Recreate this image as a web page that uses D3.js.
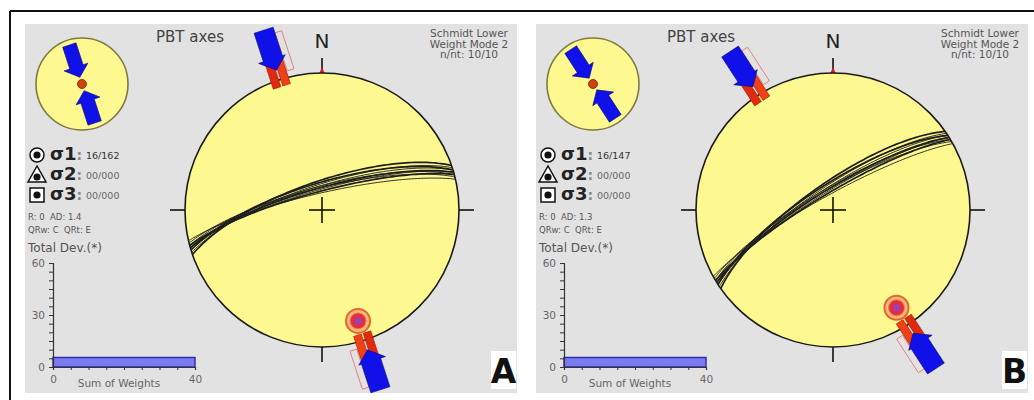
<!DOCTYPE html>
<html>
<head>
<meta charset="utf-8">
<script src="https://cdn.jsdelivr.net/npm/d3@7"></script>
<style>
	body { margin: 0; background: #fff; }
	svg { display: block; }
	text { font-family: "DejaVu Sans", sans-serif; }
</style>
</head>
<body>
<svg id="chart" width="1034" height="400"></svg>
<script>
// values
const panelNames = ["A", "B"];
const sigma1 = ["16/162", "16/147"];
const sigma2 = ["00/000", "00/000"];
const sigma3 = ["00/000", "00/000"];
const pTrend = [162, 147];
const pPlunge = [16, 16];
const rValues = ["0", "0"];
const adValues = ["1.4", "1.3"];
const qrwValues = ["C", "C"];
const qrtValues = ["E", "E"];
const strikesA = [251, 252, 253, 254, 254, 255, 255, 256, 257, 253];
const dipsA = [73, 75, 76, 77, 78, 76, 79, 77, 80, 74];
const strikesB = [235, 236, 237, 238, 238, 239, 239, 240, 241, 237];
const dipsB = [74, 76, 77, 78, 79, 77, 80, 78, 81, 75];
const sumWeights = [40, 40];
const totalDev = [5.5, 5.5];
const devTicks = [0, 30, 60];
const headerLines = ["Schmidt Lower", "Weight Mode 2", "n/nt: 10/10"];

const svg = d3.select("#chart");
const rad = Math.PI / 180;

// outer frame lines
svg.append("line").attr("x1", 10).attr("y1", 11).attr("x2", 1034).attr("y2", 11)
	.attr("stroke", "#111").attr("stroke-width", 2);
svg.append("line").attr("x1", 10).attr("y1", 11).attr("x2", 10).attr("y2", 400)
	.attr("stroke", "#111").attr("stroke-width", 2);

function drawPanel(i, strikes, dips) {
	const g = svg.append("g").attr("transform", `translate(${i * 511},0)`);

	g.append("rect").attr("x", 25).attr("y", 24).attr("width", 492).attr("height", 369)
		.attr("fill", "#e2e2e2");

	// ---- stereonet
	const cx = 322, cy = 210, R = 137;
	const rScale = d3.scaleLinear().domain([0, 1]).range([0, R]);

	function proj(trend, plunge) {
		const r = rScale(Math.SQRT2 * Math.sin((90 - plunge) / 2 * rad));
		return [cx + r * Math.sin(trend * rad), cy - r * Math.cos(trend * rad)];
	}

	function planePoints(strike, dip) {
		const s = strike * rad, dd = (strike + 90) * rad, d = dip * rad;
		return d3.range(0, 180.1, 2).map(function(t) {
			const a = t * rad;
			const n = Math.cos(a) * Math.cos(s) + Math.sin(a) * Math.cos(d) * Math.cos(dd);
			const e = Math.cos(a) * Math.sin(s) + Math.sin(a) * Math.cos(d) * Math.sin(dd);
			const dn = Math.sin(a) * Math.sin(d);
			return proj(Math.atan2(e, n) / rad, Math.asin(Math.min(1, dn)) / rad);
		});
	}

	// local frame: rho = distance from centre along az, w = sideways offset
	function local(ox, oy, az) {
		const sa = Math.sin(az * rad), ca = Math.cos(az * rad);
		return function(p) {
			return [ox + p[0] * sa + p[1] * ca, oy - p[0] * ca + p[1] * sa];
		};
	}
	const poly = d3.line();

	// ticks
	const tickSeg = [[0, -R - 15, 0, -R], [-R - 15, 0, -R, 0], [R, 0, R + 15, 0], [0, R, 0, R + 15]];
	tickSeg.forEach(function(t) {
		g.append("line").attr("x1", cx + t[0]).attr("y1", cy + t[1]).attr("x2", cx + t[2]).attr("y2", cy + t[3])
			.attr("stroke", "#111").attr("stroke-width", 1.6);
	});
	g.append("path").attr("d", poly([[cx - 3, cy - R + 1], [cx, cy - R - 6], [cx + 3, cy - R + 1]]))
		.attr("fill", "#d02020");

	g.append("circle").attr("cx", cx).attr("cy", cy).attr("r", R)
		.attr("fill", "#fdf990").attr("stroke", "#1a1a1a").attr("stroke-width", 1.6);

	// fault planes
	strikes.forEach(function(s, k) {
		g.append("path").attr("d", d3.line().curve(d3.curveBasis)(planePoints(s, dips[k])))
			.attr("fill", "none").attr("stroke", "#1e1e1e")
			.attr("stroke-width", k % 3 === 0 ? 1.7 : 0.9);
	});

	// centre cross
	g.append("line").attr("x1", cx - 13).attr("y1", cy).attr("x2", cx + 13).attr("y2", cy)
		.attr("stroke", "#111").attr("stroke-width", 1.6);
	g.append("line").attr("x1", cx).attr("y1", cy - 13).attr("x2", cx).attr("y2", cy + 13)
		.attr("stroke", "#111").attr("stroke-width", 1.6);

	// compression arrows at the primitive
	[pTrend[i], pTrend[i] + 180].forEach(function(az) {
		const f = local(cx, cy, az);
		g.append("path").attr("d", poly([[R + 46, 10], [R + 46, 17], [R + 6, 17], [R + 6, 10]].map(f)) + "Z")
			.attr("fill", "none").attr("stroke", "#e58080").attr("stroke-width", 1);
		g.append("path").attr("d", poly([[R + 18, -9], [R + 18, -1], [R - 7, -1], [R - 7, -9]].map(f)) + "Z")
			.attr("fill", "#e02a10").attr("stroke", "#a01000").attr("stroke-width", 0.6);
		g.append("path").attr("d", poly([[R + 18, 1], [R + 18, 9], [R - 7, 9], [R - 7, 1]].map(f)) + "Z")
			.attr("fill", "#f04018").attr("stroke", "#a01000").attr("stroke-width", 0.6);
		g.append("path").attr("d", poly([[R + 52, -10], [R + 22, -10], [R + 22, -15], [R + 10, 0],
			[R + 22, 13], [R + 22, 10], [R + 52, 10]].map(f)) + "Z")
			.attr("fill", "#1010e8").attr("stroke", "#0a0a70").attr("stroke-width", 0.6);
	});

	// P axis symbol
	const pp = proj(pTrend[i], pPlunge[i]);
	g.append("circle").attr("cx", pp[0]).attr("cy", pp[1]).attr("r", 12)
		.attr("fill", "#f9b488").attr("stroke", "#e06a20").attr("stroke-width", 2);
	g.append("circle").attr("cx", pp[0]).attr("cy", pp[1]).attr("r", 8)
		.attr("fill", "#e0303a").attr("stroke", "#f08040").attr("stroke-width", 1);
	g.append("circle").attr("cx", pp[0]).attr("cy", pp[1]).attr("r", 3.5)
		.attr("fill", "#9a3fc0");

	// ---- inset
	const ix = 82, iy = 84, ir = 46;
	g.append("circle").attr("cx", ix).attr("cy", iy).attr("r", ir)
		.attr("fill", "#fdf990").attr("stroke", "#7e7a40").attr("stroke-width", 1.6);
	[pTrend[i], pTrend[i] + 180].forEach(function(az) {
		const f = local(ix, iy, az);
		g.append("path").attr("d", poly([[41, -7], [18, -7], [18, -13], [7, 0], [18, 12], [18, 7], [41, 7]].map(f)) + "Z")
			.attr("fill", "#1010e8").attr("stroke", "#0a0a70").attr("stroke-width", 0.6);
	});
	g.append("circle").attr("cx", ix).attr("cy", iy).attr("r", 4.5)
		.attr("fill", "#d04010").attr("stroke", "#802000").attr("stroke-width", 0.8);

	// ---- headers
	g.append("text").attr("x", 190).attr("y", 42).attr("text-anchor", "middle")
		.attr("font-size", 15).attr("fill", "#444").text("PBT axes");
	g.append("text").attr("x", cx).attr("y", 48).attr("text-anchor", "middle")
		.attr("font-size", 20).attr("fill", "#222").text("N");
	headerLines.forEach(function(t, k) {
		g.append("text").attr("x", 469).attr("y", 37 + k * 10.5).attr("text-anchor", "middle")
			.attr("font-size", 10.5).attr("fill", "#555").text(t);
	});

	// ---- sigma legend
	const sigY = [155, 175, 195];
	g.append("circle").attr("cx", 37).attr("cy", sigY[0]).attr("r", 7)
		.attr("fill", "#fff").attr("stroke", "#111").attr("stroke-width", 1.5);
	g.append("path").attr("d", poly([[37, sigY[1] - 9], [28, sigY[1] + 7], [46, sigY[1] + 7]]) + "Z")
		.attr("fill", "#fff").attr("stroke", "#111").attr("stroke-width", 1.5);
	g.append("rect").attr("x", 30).attr("y", sigY[2] - 7).attr("width", 14).attr("height", 14)
		.attr("fill", "#fff").attr("stroke", "#111").attr("stroke-width", 1.5);
	[sigY[0], sigY[1] + 2, sigY[2]].forEach(function(y) {
		g.append("circle").attr("cx", 37).attr("cy", y).attr("r", 3.6).attr("fill", "#111");
	});
	[sigma1[i], sigma2[i], sigma3[i]].forEach(function(v, k) {
		const t = g.append("text").attr("x", 50).attr("y", sigY[k] + 5)
			.attr("font-family", "Liberation Serif").attr("font-weight", "bold").attr("font-size", 18).attr("fill", "#222");
		t.append("tspan").text("σ" + (k + 1));
		t.append("tspan").attr("font-size", 14).attr("fill", "#888").text(":");
		g.append("text").attr("x", 86).attr("y", sigY[k] + 4)
			.attr("font-family", "DejaVu Serif").attr("font-size", 9.5).attr("fill", k === 0 ? "#333" : "#666").text(v);
	});

	g.append("text").attr("x", 28).attr("y", 220).attr("font-size", 8.5).attr("fill", "#555")
		.attr("xml:space", "preserve").text("R: " + rValues[i] + "  AD: " + adValues[i]);
	g.append("text").attr("x", 28).attr("y", 233).attr("font-size", 8.5).attr("fill", "#555")
		.attr("xml:space", "preserve").text("QRw: " + qrwValues[i] + "  QRt: " + qrtValues[i]);
	g.append("text").attr("x", 28).attr("y", 252).attr("font-size", 12).attr("fill", "#555")
		.text("Total Dev.(*)");

	// ---- small bar chart
	const x = d3.scaleLinear().domain([0, 40]).range([53, 195]);
	const y = d3.scaleLinear().domain([0, 60]).range([367, 263]);

	g.append("rect").attr("x", x(0)).attr("y", y(totalDev[i])).attr("width", x(sumWeights[i]) - x(0))
		.attr("height", y(0) - y(totalDev[i]))
		.attr("fill", "#7a7af2").attr("stroke", "#2a2aa8").attr("stroke-width", 1.4);

	const yAxis = g.append("g").attr("transform", `translate(${x(0)},0)`)
		.call(d3.axisLeft(y).tickValues(d3.range(0, 61, 5)).tickSize(4)
			.tickFormat(function(d) { return devTicks.includes(d) ? d : ""; }));
	const xAxis = g.append("g").attr("transform", `translate(0,${y(0)})`)
		.call(d3.axisBottom(x).tickValues(d3.range(0, 41, 5)).tickSize(3)
			.tickFormat(function(d) { return d === 0 || d === 40 ? d : ""; }));
	[yAxis, xAxis].forEach(function(a) {
		a.select(".domain").attr("stroke", "#333").attr("stroke-width", 1.2);
		a.selectAll(".tick line").attr("stroke", "#333");
		a.selectAll(".tick text").attr("fill", "#666").attr("font-size", 10.5)
			.attr("font-family", "DejaVu Sans");
	});
	yAxis.selectAll(".tick text").attr("x", -8);
	xAxis.selectAll(".tick text").attr("y", 9);
	g.append("text").attr("x", 119).attr("y", 387).attr("text-anchor", "middle")
		.attr("font-size", 10.5).attr("fill", "#666").text("Sum of Weights");

	// ---- panel letter
	g.append("rect").attr("x", 491).attr("y", 351).attr("width", 25).attr("height", 38).attr("fill", "#fff");
	g.append("text").attr("x", 503.5).attr("y", 383).attr("text-anchor", "middle")
		.attr("font-family", "Liberation Sans").attr("font-weight", "bold").attr("font-size", 33)
		.attr("fill", "#111").text(panelNames[i]);
}

drawPanel(0, strikesA, dipsA);
drawPanel(1, strikesB, dipsB);
</script>
</body>
</html>
